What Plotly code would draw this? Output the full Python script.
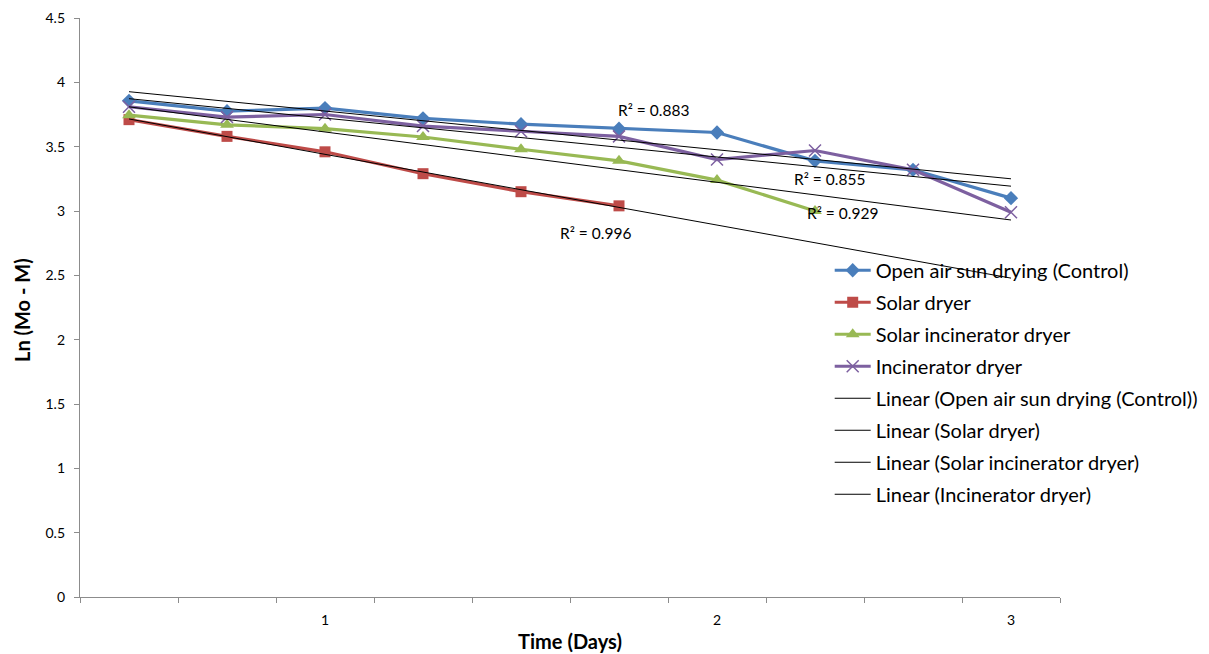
import numpy as np
import plotly.graph_objects as go

# ---- data ----
categories = [1, 2, 3, 4, 5, 6, 7, 8, 9, 10]
tick_positions = [3, 7, 10]
tick_labels = ["1", "2", "3"]

open_air = [3.856, 3.776, 3.80, 3.72, 3.675, 3.64, 3.61, 3.39, 3.32, 3.10]
solar_dryer = [3.71, 3.58, 3.46, 3.29, 3.15, 3.04]
solar_incinerator = [3.745, 3.67, 3.64, 3.575, 3.48, 3.39, 3.24, 3.00]
incinerator = [3.81, 3.73, 3.75, 3.66, 3.62, 3.58, 3.40, 3.47, 3.32, 2.99]

series_names = ["Open air sun drying (Control)", "Solar dryer",
                "Solar incinerator dryer", "Incinerator dryer"]
r2_labels = ["R² = 0.883", "R² = 0.996", "R² = 0.929", "R² = 0.855"]
y_title = "<b>Ln (Mo - M)</b>"
x_title = "<b>Time (Days)</b>"

# ---- styles ----
colors = ["#4A7EBB", "#BE4B48", "#98B954", "#7D60A0"]
symbols = ["diamond", "square", "triangle-up", "x-thin"]
msizes = [11, 11, 12, 12]
r2_pos = [(6.357, 3.785), (5.765, 2.829), (8.276, 2.984), (8.153, 3.249)]

FONT = "Lato"
fig = go.Figure()

all_series = [open_air, solar_dryer, solar_incinerator, incinerator]
for i, (name, vals) in enumerate(zip(series_names, all_series)):
    x = categories[:len(vals)]
    marker = dict(symbol=symbols[i], size=msizes[i], color=colors[i])
    if symbols[i] == "x-thin":
        marker["line"] = dict(color=colors[i], width=1.5)
    fig.add_trace(go.Scatter(
        x=x, y=vals, mode="lines+markers", name=name,
        line=dict(color=colors[i], width=3.2),
        marker=marker, legendgroup=f"g{i}",
    ))

for i, (name, vals) in enumerate(zip(series_names, all_series)):
    x = np.array(categories[:len(vals)], dtype=float)
    slope, icpt = np.polyfit(x, np.array(vals), 1)
    xx = np.array(categories, dtype=float)
    fig.add_trace(go.Scatter(
        x=xx, y=slope * xx + icpt, mode="lines", name=f"Linear ({name})",
        line=dict(color="black", width=1), legendgroup=f"t{i}",
    ))

for (ax, ay), txt in zip(r2_pos, r2_labels):
    fig.add_annotation(x=ax, y=ay, xref="x", yref="y", text=txt,
                       showarrow=False, font=dict(family=FONT, size=15.5, color="#000"))

# y-axis title as rotated text
fig.add_annotation(x=-0.059, y=0.496, xref="paper", yref="paper", text=y_title,
                   textangle=-90, showarrow=False, xanchor="center", yanchor="middle",
                   font=dict(family=FONT, size=20, color="#000"))

fig.update_layout(
    width=1209, height=654,
    margin=dict(l=72, r=157, t=10, b=65),
    paper_bgcolor="white", plot_bgcolor="white",
    font=dict(family=FONT, color="#000"),
    legend=dict(x=0.765, y=0.598, xanchor="left", yanchor="top",
                bgcolor="rgba(0,0,0,0)", font=dict(family=FONT, size=20),
                tracegroupgap=3, traceorder="grouped", itemwidth=36),
    xaxis=dict(
        range=[0.5, 10.5], tickmode="array", tickvals=tick_positions,
        ticktext=tick_labels, ticks="", showgrid=False, zeroline=False,
        showline=True, linecolor="#8C8C8C", linewidth=1.3, automargin=False,
        tickfont=dict(family=FONT, size=14), ticklabelstandoff=10,
        minor=dict(tickmode="linear", tick0=0.5, dtick=1, ticks="outside",
                   ticklen=5, tickcolor="#8C8C8C", showgrid=False),
        title=dict(text=x_title, font=dict(family=FONT, size=20), standoff=8),
    ),
    yaxis=dict(
        range=[0, 4.5], tickmode="linear", tick0=0, dtick=0.5,
        ticks="outside", ticklen=5, tickcolor="#8C8C8C", showgrid=False,
        zeroline=False, showline=True, linecolor="#8C8C8C", linewidth=1.3,
        automargin=False,
        tickfont=dict(family=FONT, size=14), ticklabelstandoff=6,
    ),
)

fig.write_html("out.html")
